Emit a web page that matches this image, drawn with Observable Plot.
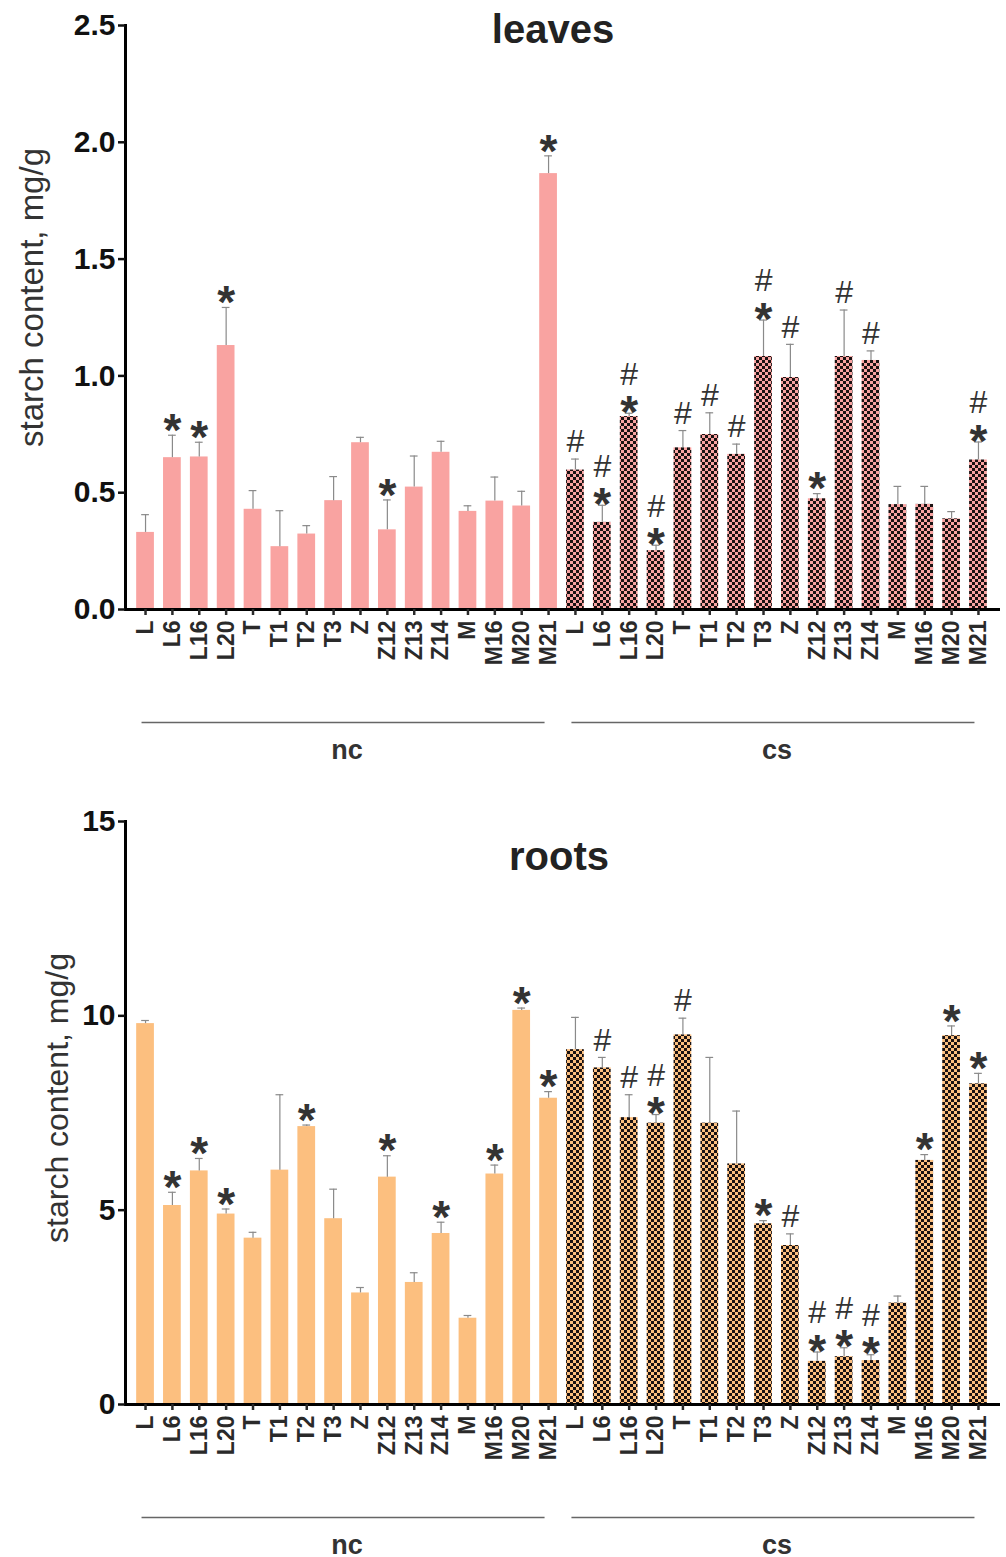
<!DOCTYPE html>
<html><head><meta charset="utf-8">
<script src="https://cdn.jsdelivr.net/npm/d3@7"></script>
<script src="https://cdn.jsdelivr.net/npm/@observablehq/plot@0.6"></script>
<style>
body{margin:0;background:#fff;font-family:"Liberation Sans",Arial,sans-serif}
#chart svg{display:block}
</style>
</head><body><div id="chart"></div>
<script>
const categories = ["L","L6","L16","L20","T","T1","T2","T3","Z","Z12","Z13","Z14","M","M16","M20","M21"];
const groups = ["nc","cs"];

// leaves: mean and upper error-bar end
const leavesNc    = [0.33,0.65,0.653,1.13,0.429,0.269,0.323,0.466,0.714,0.341,0.524,0.673,0.42,0.464,0.443,1.866];
const leavesNcTop = [0.406,0.746,0.716,1.293,0.509,0.423,0.359,0.569,0.737,0.469,0.657,0.72,0.444,0.567,0.506,1.942];
const leavesCs    = [0.597,0.373,0.826,0.252,0.692,0.749,0.664,1.083,0.993,0.474,1.083,1.066,0.449,0.45,0.388,0.64];
const leavesCsTop = [0.644,0.446,0.84,0.275,0.766,0.842,0.708,1.239,1.135,0.496,1.282,1.107,0.527,0.527,0.419,0.717];
const leavesNcSig = ["","*","*","*","","","","","","*","","","","","","*"];
const leavesCsSig = ["#","#*","#*","#*","#","#","#","#*","#","*","#","#","","","","#*"];

// roots
const rootsNc    = [9.8,5.12,6.01,4.9,4.28,6.03,7.15,4.78,2.87,5.85,3.14,4.4,2.22,5.93,10.14,7.88];
const rootsNcTop = [9.88,5.46,6.33,5.03,4.43,7.97,7.19,5.54,3.01,6.4,3.39,4.69,2.29,6.16,10.2,8.05];
const rootsCs    = [9.13,8.66,7.38,7.24,9.51,7.24,6.19,4.65,4.09,1.11,1.23,1.13,2.61,6.28,9.49,8.25];
const rootsCsTop = [9.96,8.93,7.97,7.46,9.94,8.93,7.55,4.73,4.39,1.35,1.46,1.28,2.79,6.43,9.74,8.52];
const rootsNcSig = ["","*","*","*","","","*","","","*","","*","","*","*","*"];
const rootsCsSig = ["","#","#","#*","#","","","*","#","#*","#*","#*","","*","*","*"];

const leavesTicks = [0,0.5,1.0,1.5,2.0,2.5];
const rootsTicks = [0,5,10,15];

function rows(ncV, ncT, ncS, csV, csT, csS) {
  const out = [];
  categories.forEach((c,i)=>out.push({group:"nc",cat:c,key:"nc|"+c,v:ncV[i],top:ncT[i],sig:ncS[i]}));
  categories.forEach((c,i)=>out.push({group:"cs",cat:c,key:"cs|"+c,v:csV[i],top:csT[i],sig:csS[i]}));
  return out;
}

function chart(cfg) {
  const data = rows(...cfg.series);
  const keys = data.map(d=>d.key);
  const nc = data.filter(d=>d.group==="nc");
  const cs = data.filter(d=>d.group==="cs");
  const starsSolo = data.filter(d=>d.sig === "*");
  const starsCombo = data.filter(d=>d.sig === "#*");
  const hashSolo = data.filter(d=>d.sig === "#");
  const hashCombo = data.filter(d=>d.sig === "#*");
  const grp = groups.map(g=>({g, first:g+"|"+categories[0], last:g+"|"+categories[categories.length-1], mid:g+"|"+categories[7]}));
  const svg = Plot.plot({
    width: 1006, height: cfg.height,
    marginLeft: 125, marginRight: 6, marginTop: cfg.mt, marginBottom: cfg.mb,
    style: {fontFamily: '"Liberation Sans", Arial, sans-serif', background: "#fff", overflow: "visible"},
    x: {type: "band", domain: keys, range: [131.6, 991.4], paddingInner: 0.34, paddingOuter: 0.17, round: false},
    y: {domain: cfg.domain},
    marks: [
      Plot.barY(nc, {x: "key", y: "v", fill: cfg.color}),
      Plot.barY(cs, {x: "key", y: "v", fill: `url(#${cfg.pid})`}),
      Plot.ruleX(data, {x: "key", y1: "v", y2: "top", stroke: "#8a8a8a", strokeWidth: 1.2}),
      Plot.tickY(data, {x: "key", y: "top", stroke: "#8a8a8a", strokeWidth: 1.2, insetLeft: 5, insetRight: 5}),
      Plot.text(starsSolo, {x: "key", y: "top", text: () => "*", fontSize: 46, fontWeight: "bold", fill: "#333", lineAnchor: "middle", dy: -4}),
      Plot.text(starsCombo, {x: "key", y: "top", text: () => "*", fontSize: 46, fontWeight: "bold", fill: "#333", lineAnchor: "middle", dy: 0}),
      Plot.text(hashSolo, {x: "key", y: "top", text: () => "#", fontSize: 32, fill: "#333", lineAnchor: "middle", dy: -17}),
      Plot.text(hashCombo, {x: "key", y: "top", text: () => "#", fontSize: 32, fill: "#333", lineAnchor: "middle", dy: -39}),
      Plot.ruleY([0], {stroke: "#000", strokeWidth: 3}),
      Plot.frame({anchor: "left", stroke: "#000", strokeWidth: 3}),
      Plot.axisY({ticks: cfg.ticks, tickFormat: cfg.fmt, fontSize: 30, fontWeight: "bold", tickSize: 7, tickPadding: 3, strokeWidth: 2.5, color: "#111", label: null}),
      Plot.axisX({tickRotate: -90, tickFormat: d => d.split("|")[1], fontSize: 23, fontWeight: "bold", tickSize: 6, tickPadding: 5, strokeWidth: 2.5, color: "#2a2a2a", label: null}),
      Plot.link(grp, {x1: "first", x2: "last", y1: () => 0, y2: () => 0, dx: -4, dy: 113, stroke: "#666", strokeWidth: 1.6}),
      Plot.text(grp, {x: "mid", y: () => 0, text: "g", dx: 13.4, dy: 141, fontSize: 27, fontWeight: "bold", fill: "#333", lineAnchor: "middle"}),
      Plot.text([cfg.title], {frameAnchor: "top", dx: cfg.tdx, dy: cfg.tdy, fontSize: 40, fontWeight: "bold", fill: "#222", lineAnchor: "middle"}),
      Plot.text(["starch content, mg/g"], {frameAnchor: "left", textAnchor: "middle", rotate: -90, dx: cfg.ldx, dy: cfg.ldy, fontSize: cfg.lfs, fill: "#333", lineAnchor: "middle"})
    ]
  });
  const g = d3.select(svg);
  const defs = g.insert("defs", ":first-child");
  const p = defs.append("pattern").attr("id", cfg.pid).attr("patternUnits", "userSpaceOnUse").attr("width", 6).attr("height", 6);
  p.append("rect").attr("width", 6).attr("height", 6).attr("fill", cfg.color);
  p.append("rect").attr("width", 3).attr("height", 3).attr("fill", "#1a1212");
  p.append("rect").attr("x", 3).attr("y", 3).attr("width", 3).attr("height", 3).attr("fill", "#1a1212");
  return svg;
}

const root = document.getElementById("chart");
root.append(chart({
  series: [leavesNc, leavesNcTop, leavesNcSig, leavesCs, leavesCsTop, leavesCsSig],
  height: 790, mt: 25, mb: 181, domain: [0, 2.5], ticks: leavesTicks, fmt: ".1f",
  color: "#f9a3a1", pid: "checkLeaves", title: "leaves", tdx: -10, tdy: 5, ldx: -93, ldy: -20, lfs: 33
}));
root.append(chart({
  series: [rootsNc, rootsNcTop, rootsNcSig, rootsCs, rootsCsTop, rootsCsSig],
  height: 767, mt: 31, mb: 153, domain: [0, 15], ticks: rootsTicks, fmt: "d",
  color: "#fcbf7f", pid: "checkRoots", title: "roots", tdx: -4, tdy: 36, ldx: -68, ldy: -15, lfs: 32
}));
</script>
</body></html>
